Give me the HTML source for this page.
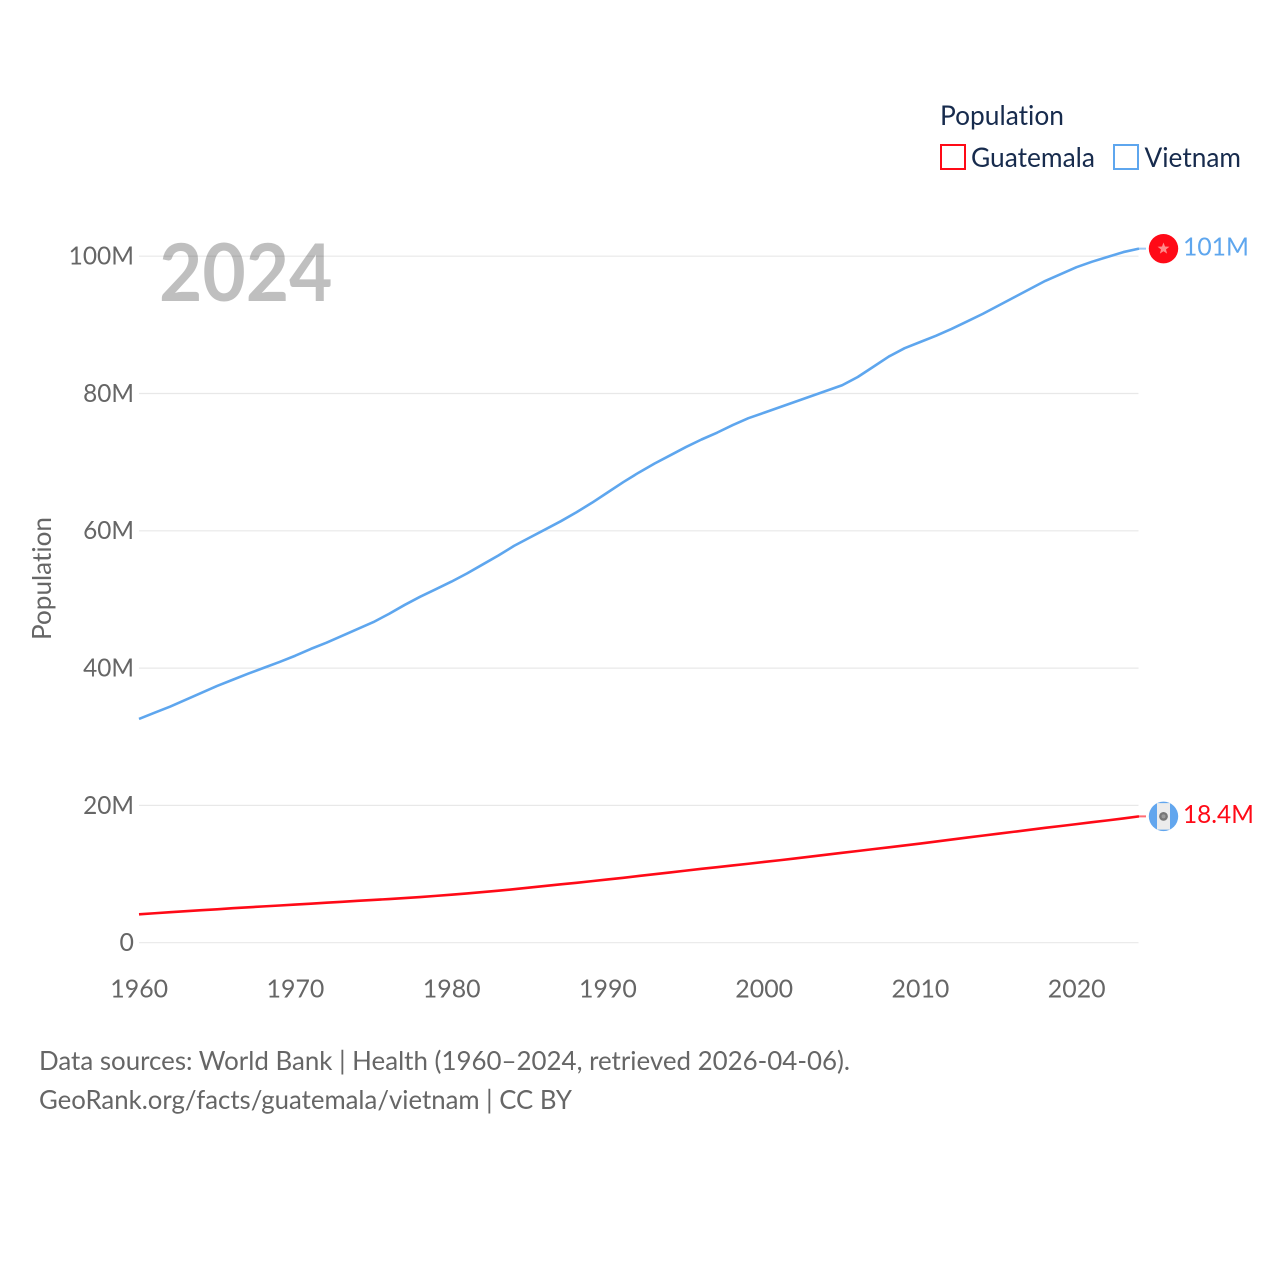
<!DOCTYPE html>
<html lang="en">
<head>
<meta charset="utf-8">
<title>Population: Guatemala and Vietnam</title>
<style>
html,body{margin:0;padding:0;background:#fff;}
svg{display:block;}
text{font-family:"Lato","Carlito","Liberation Sans",sans-serif;font-variant-ligatures:none;}
</style>
</head>
<body>
<svg id="chart" xmlns="http://www.w3.org/2000/svg" width="1280" height="1280" viewBox="0 0 1280 1280">
  <rect x="0" y="0" width="1280" height="1280" fill="#ffffff"/>
  <g id="grid"></g>
  <text x="159" y="301" font-size="80" font-weight="700" fill="#000000" fill-opacity="0.25" textLength="173.5" lengthAdjust="spacingAndGlyphs">2024</text>
  <g id="yticks"></g>
  <g id="xticks"></g>
  <text transform="translate(51,640) rotate(-90)" font-size="26" fill="#666666" textLength="123" lengthAdjust="spacingAndGlyphs">Population</text>
  <g id="series"></g>
  <g>
    <text x="940" y="125" font-size="27" fill="#172b4d" textLength="124" lengthAdjust="spacingAndGlyphs">Population</text>
    <g>
      <rect x="941" y="145" width="24" height="24" fill="#ffffff" stroke="#ff0a17" stroke-width="2"/>
      <text x="971" y="167" font-size="27" fill="#172b4d" textLength="124" lengthAdjust="spacingAndGlyphs">Guatemala</text>
    </g>
    <g>
      <rect x="1114" y="145" width="24" height="24" fill="#ffffff" stroke="#5ea6ee" stroke-width="2"/>
      <text x="1144.5" y="167" font-size="27" fill="#172b4d" textLength="96.5" lengthAdjust="spacingAndGlyphs">Vietnam</text>
    </g>
  </g>
  <g id="ends"></g>
  <text x="39" y="1070" font-size="26" fill="#666666" textLength="811" lengthAdjust="spacingAndGlyphs">Data sources: World Bank | Health (1960–2024, retrieved 2026-04-06).</text>
  <text x="39" y="1109" font-size="26" fill="#666666" textLength="533" lengthAdjust="spacingAndGlyphs">GeoRank.org/facts/guatemala/vietnam | CC BY</text>
</svg>
<script>
const startYear = 1960;
const endYear = 2024;
const yTickValues = [0, 20, 40, 60, 80, 100];
const yTickLabels = ["0", "20M", "40M", "60M", "80M", "100M"];
const xTickValues = [1960, 1970, 1980, 1990, 2000, 2010, 2020];
const xTickLabels = ["1960", "1970", "1980", "1990", "2000", "2010", "2020"];
const vietnamValues = [32.6,33.5,34.4,35.4,36.4,37.4,38.3,39.2,40.05,40.9,41.8,42.8,43.7,44.7,45.7,46.7,47.9,49.2,50.4,51.5,52.6,53.8,55.1,56.4,57.8,59.0,60.2,61.4,62.7,64.1,65.6,67.1,68.5,69.8,71.0,72.2,73.3,74.3,75.4,76.4,77.2,78.0,78.8,79.6,80.4,81.2,82.4,83.9,85.4,86.6,87.5,88.4,89.4,90.5,91.6,92.8,94.0,95.2,96.4,97.4,98.4,99.2,99.9,100.6,101.1];
const guatemalaValues = [4.14,4.29,4.44,4.59,4.73,4.87,5.03,5.16,5.29,5.42,5.55,5.69,5.83,5.96,6.10,6.23,6.36,6.50,6.65,6.82,7.00,7.18,7.37,7.57,7.79,8.03,8.27,8.50,8.73,8.97,9.21,9.45,9.72,9.98,10.24,10.50,10.76,11.00,11.25,11.50,11.76,12.01,12.28,12.55,12.82,13.09,13.36,13.63,13.90,14.17,14.44,14.73,15.02,15.31,15.60,15.88,16.16,16.44,16.73,17.00,17.27,17.55,17.82,18.10,18.40];
const vietnamEndLabel = "101M";
const guatemalaEndLabel = "18.4M";

const NS = "http://www.w3.org/2000/svg";
const xScale = year => 139 + (year - startYear) * (1139 - 139) / (endYear - startYear);
const yScale = value => 942.7 - value * 6.865;
const labelWidth = label => {
  let w = 0;
  for (const c of label) { w += c === "M" ? 22 : c === "." ? 5.5 : 14.45; }
  return w;
};
const make = (tag, attrs, parent) => {
  const el = document.createElementNS(NS, tag);
  for (const k in attrs) el.setAttribute(k, attrs[k]);
  parent.appendChild(el);
  return el;
};

const grid = document.getElementById("grid");
const yticks = document.getElementById("yticks");
yTickValues.forEach((v, i) => {
  const line = make("line", {x1: 139, x2: 1138.5, y1: yScale(v), y2: yScale(v), stroke: "#e6e6e6", "stroke-width": 1.2, "stroke-opacity": 0.9}, grid);
  
  
  const t = make("text", {x: 134, y: yScale(v) + 8.4, "text-anchor": "end", "font-size": 25, fill: "#666666", textLength: labelWidth(yTickLabels[i]), lengthAdjust: "spacingAndGlyphs"}, yticks);
  t.textContent = yTickLabels[i];
  
  
});

const xticks = document.getElementById("xticks");
xTickValues.forEach((v, i) => {
  const t = make("text", {x: xScale(v) + 0.2, y: 997.5, "text-anchor": "middle", "font-size": 25, fill: "#666666", textLength: labelWidth(xTickLabels[i]), lengthAdjust: "spacingAndGlyphs"}, xticks);
  t.textContent = xTickLabels[i];
  
  
});

const series = document.getElementById("series");
const pathFor = vals => vals.map((v, i) => (i ? "L" : "M") + xScale(startYear + i).toFixed(2) + " " + yScale(v).toFixed(2)).join(" ");

const vietnamLine = make("path", {d: pathFor(vietnamValues), fill: "none", stroke: "#5ea6ee", "stroke-width": 2.6, "stroke-linejoin": "round"}, series);


const guatemalaLine = make("path", {d: pathFor(guatemalaValues), fill: "none", stroke: "#ff0a17", "stroke-width": 2.6, "stroke-linejoin": "round"}, series);



const ends = document.getElementById("ends");
const lastV = yScale(vietnamValues[vietnamValues.length - 1]);
const lastG = yScale(guatemalaValues[guatemalaValues.length - 1]);
const endX = xScale(endYear);

const vConn = make("line", {x1: endX, x2: endX + 7, y1: lastV, y2: lastV, stroke: "#5ea6ee", "stroke-width": 2, "stroke-opacity": 0.6}, ends);


const gConn = make("line", {x1: endX, x2: endX + 7, y1: lastG, y2: lastG, stroke: "#ff0a17", "stroke-width": 2, "stroke-opacity": 0.6}, ends);



const fx = endX + 24.5;
const vFlag = make("g", {}, ends);


make("circle", {cx: fx, cy: lastV, r: 14.7, fill: "#ff0a17"}, vFlag);
const starPts = [];
for (let i = 0; i < 10; i++) {
  const r = i % 2 ? 2.6 : 6.2;
  const a = -Math.PI / 2 + i * Math.PI / 5;
  starPts.push((fx + r * Math.cos(a)).toFixed(2) + "," + (lastV + r * Math.sin(a)).toFixed(2));
}
make("polygon", {points: starPts.join(" "), fill: "#ff8a8a"}, vFlag);

const gFlag = make("g", {}, ends);


make("circle", {cx: fx, cy: lastG, r: 14.7, fill: "#62a6ee"}, gFlag);
make("path", {d: `M${fx - 6.5} ${lastG - 13.2} L${fx + 6.5} ${lastG - 13.2} L${fx + 6.5} ${lastG + 13.2} L${fx - 6.5} ${lastG + 13.2} Z`, fill: "#ececec"}, gFlag);
make("circle", {cx: fx, cy: lastG, r: 3.2, fill: "#9a9a9a", stroke: "#777777", "stroke-width": 2.4}, gFlag);

const vLabel = make("text", {x: 1183, y: lastV + 6.8, "font-size": 25, fill: "#5ea6ee", textLength: labelWidth(vietnamEndLabel) + 0.6, lengthAdjust: "spacingAndGlyphs"}, ends);
vLabel.textContent = vietnamEndLabel;


const gLabel = make("text", {x: 1183, y: lastG + 6.8, "font-size": 25, fill: "#ff0a17", textLength: labelWidth(guatemalaEndLabel), lengthAdjust: "spacingAndGlyphs"}, ends);
gLabel.textContent = guatemalaEndLabel;


</script>
</body>
</html>
